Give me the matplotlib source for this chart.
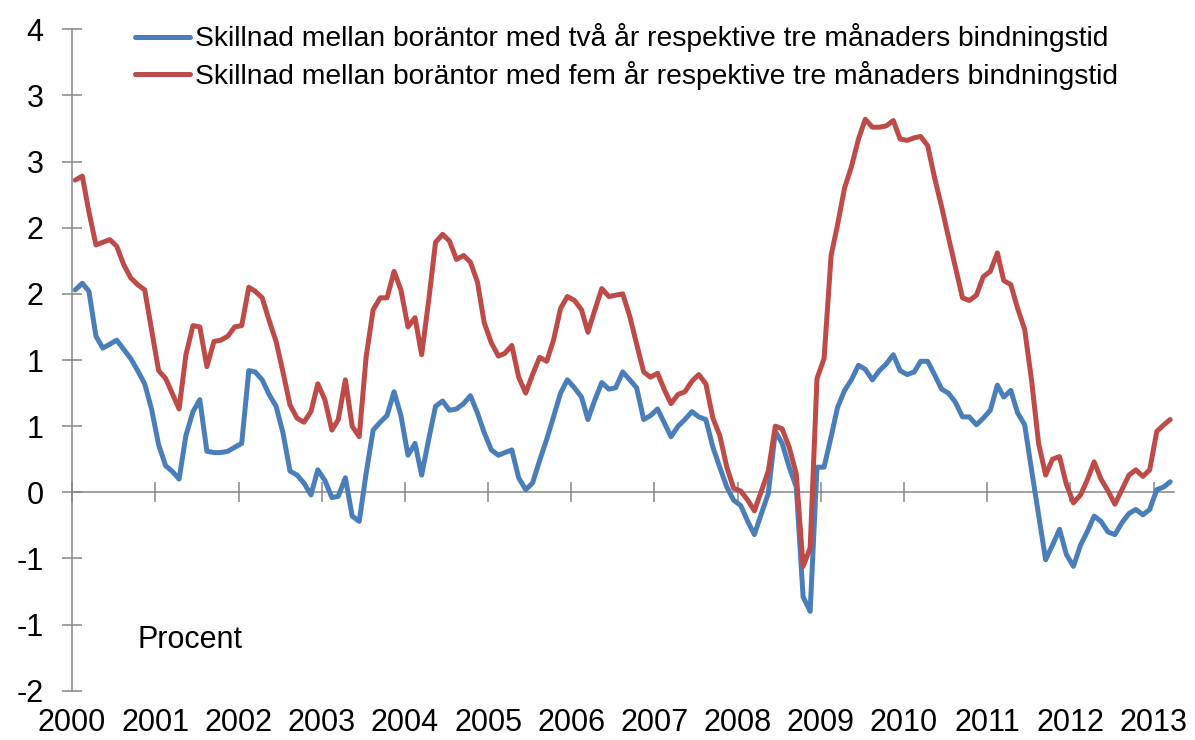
import matplotlib
matplotlib.use("Agg")
import matplotlib.pyplot as plt
import matplotlib.dates as mdates
import numpy as np
import pandas as pd

# Spread between two-year and three-month fixed mortgage rates (percent), monthly from Jan 2000
two_year = [
    1.53, 1.58, 1.52, 1.18, 1.09, 1.12, 1.15, 1.08, 1.01, 0.92, 0.82, 0.63,
    0.36, 0.20, 0.16, 0.10, 0.43, 0.61, 0.70, 0.31, 0.30, 0.30, 0.31, 0.34,
    0.37, 0.92, 0.91, 0.85, 0.74, 0.65, 0.45, 0.16, 0.13, 0.07, -0.02, 0.17,
    0.09, -0.04, -0.03, 0.11, -0.18, -0.22, 0.14, 0.47, 0.53, 0.58, 0.76, 0.58,
    0.28, 0.37, 0.13, 0.40, 0.65, 0.69, 0.62, 0.63, 0.67, 0.73, 0.60, 0.45,
    0.32, 0.28, 0.30, 0.32, 0.11, 0.02, 0.07, 0.24, 0.40, 0.57, 0.75, 0.85,
    0.79, 0.72, 0.55, 0.70, 0.83, 0.78, 0.79, 0.91, 0.85, 0.79, 0.55, 0.58,
    0.63, 0.52, 0.42, 0.50, 0.55, 0.61, 0.57, 0.55, 0.34, 0.19, 0.04, -0.06,
    -0.10, -0.22, -0.32, -0.16, -0.01, 0.46, 0.37, 0.19, 0.04, -0.79, -0.90, 0.19,
    0.19, 0.42, 0.64, 0.77, 0.85, 0.96, 0.93, 0.85, 0.92, 0.97, 1.04, 0.92,
    0.89, 0.91, 0.99, 0.99, 0.89, 0.78, 0.75, 0.68, 0.57, 0.57, 0.51, 0.56,
    0.62, 0.81, 0.72, 0.77, 0.60, 0.51, 0.17, -0.17, -0.51, -0.40, -0.28, -0.47,
    -0.56, -0.40, -0.30, -0.18, -0.22, -0.30, -0.32, -0.23, -0.16, -0.13, -0.17, -0.13,
    0.02, 0.04, 0.08,
]

# Spread between five-year and three-month fixed mortgage rates (percent)
five_year = [
    2.36, 2.39, 2.12, 1.87, 1.89, 1.91, 1.86, 1.72, 1.62, 1.57, 1.53, 1.23,
    0.92, 0.86, 0.75, 0.63, 1.04, 1.26, 1.25, 0.95, 1.14, 1.15, 1.18, 1.25,
    1.26, 1.55, 1.52, 1.47, 1.30, 1.14, 0.91, 0.66, 0.56, 0.53, 0.61, 0.82,
    0.70, 0.47, 0.55, 0.85, 0.50, 0.42, 1.02, 1.38, 1.47, 1.47, 1.67, 1.53,
    1.25, 1.32, 1.04, 1.45, 1.89, 1.95, 1.90, 1.76, 1.79, 1.74, 1.59, 1.28,
    1.13, 1.03, 1.05, 1.11, 0.87, 0.75, 0.89, 1.02, 0.99, 1.15, 1.39, 1.48,
    1.45, 1.38, 1.21, 1.38, 1.54, 1.48, 1.49, 1.50, 1.33, 1.12, 0.91, 0.87,
    0.90, 0.77, 0.67, 0.74, 0.76, 0.84, 0.89, 0.82, 0.56, 0.43, 0.19, 0.03,
    0.01, -0.06, -0.14, 0.01, 0.16, 0.50, 0.48, 0.34, 0.14, -0.56, -0.42, 0.86,
    1.01, 1.79, 2.02, 2.30, 2.46, 2.67, 2.82, 2.76, 2.76, 2.77, 2.81, 2.67,
    2.66, 2.68, 2.69, 2.62, 2.38, 2.16, 1.93, 1.70, 1.47, 1.45, 1.49, 1.63,
    1.67, 1.81, 1.60, 1.57, 1.39, 1.23, 0.85, 0.37, 0.13, 0.25, 0.27, 0.06,
    -0.08, -0.02, 0.09, 0.23, 0.10, 0.01, -0.09, 0.02, 0.13, 0.17, 0.12, 0.17,
    0.46, 0.51, 0.55,
]

series_labels = [
    "Skillnad mellan boräntor med två år respektive tre månaders bindningstid",
    "Skillnad mellan boräntor med fem år respektive tre månaders bindningstid",
]

y_ticks = [-1.5, -1.0, -0.5, 0.0, 0.5, 1.0, 1.5, 2.0, 2.5, 3.0, 3.5]
y_tick_labels = ["-2", "-1", "-1", "0", "1", "1", "2", "2", "3", "3", "4"]

months = pd.date_range("2000-01-15", periods=len(two_year), freq=pd.DateOffset(months=1))

BLUE = "#4A7EBB"
RED = "#BE4B48"
GRAY = "#868686"
FS = 22
LEGEND_FS = 20.3

plt.rcParams["font.family"] = ["Liberation Sans", "DejaVu Sans"]

fig = plt.figure(figsize=(11.95, 7.4), dpi=100)
ax = fig.add_axes([0.0603, 0.0666, 0.9222, 0.8938])

ax.plot(months, two_year, color=BLUE, lw=3.6, solid_joinstyle="round",
        solid_capstyle="round", label=series_labels[0], zorder=3)
ax.plot(months, five_year, color=RED, lw=3.6, solid_joinstyle="round",
        solid_capstyle="round", label=series_labels[1], zorder=3)

ax.set_ylim(-1.5, 3.5)
ax.set_xlim(pd.Timestamp("2000-01-01"), pd.Timestamp("2013-04-01"))

# axes: y-axis on left, category axis crossing at zero
for side in ["top", "right"]:
    ax.spines[side].set_visible(False)
ax.spines["left"].set_color(GRAY)
ax.spines["left"].set_linewidth(1.1)
ax.spines["bottom"].set_position(("data", 0))
ax.spines["bottom"].set_color(GRAY)
ax.spines["bottom"].set_linewidth(1.1)

ax.set_yticks(y_ticks, y_tick_labels)
ax.xaxis.set_major_locator(mdates.YearLocator())
ax.tick_params(axis="both", direction="inout", length=14, width=1.1, color=GRAY)
ax.tick_params(axis="y", labelsize=FS, pad=13.5)
ax.tick_params(axis="x", labelbottom=False)

# year labels sit at the bottom of the plot area
ax2 = ax.twiny()
ax2.set_xlim(ax.get_xlim())
ax2.xaxis_date()
ax2.xaxis.set_ticks_position("bottom")
ax2.xaxis.set_major_locator(mdates.YearLocator())
ax2.xaxis.set_major_formatter(mdates.DateFormatter("%Y"))
ax2.tick_params(axis="x", length=0, pad=12.5, labelsize=FS)
for s in ax2.spines.values():
    s.set_visible(False)

ax.legend(loc="upper left", bbox_to_anchor=(135 / 1195, 1 - 23.5 / 740),
          bbox_transform=fig.transFigure, frameon=False, fontsize=LEGEND_FS,
          handlelength=1.95, handletextpad=0.18, labelspacing=0.29,
          borderpad=0, borderaxespad=0)

fig.text(137 / 1195, 1 - 640 / 740, "Procent", fontsize=FS, ha="left", va="center")

fig.savefig("out.png", dpi=100)
plt.close(fig)
